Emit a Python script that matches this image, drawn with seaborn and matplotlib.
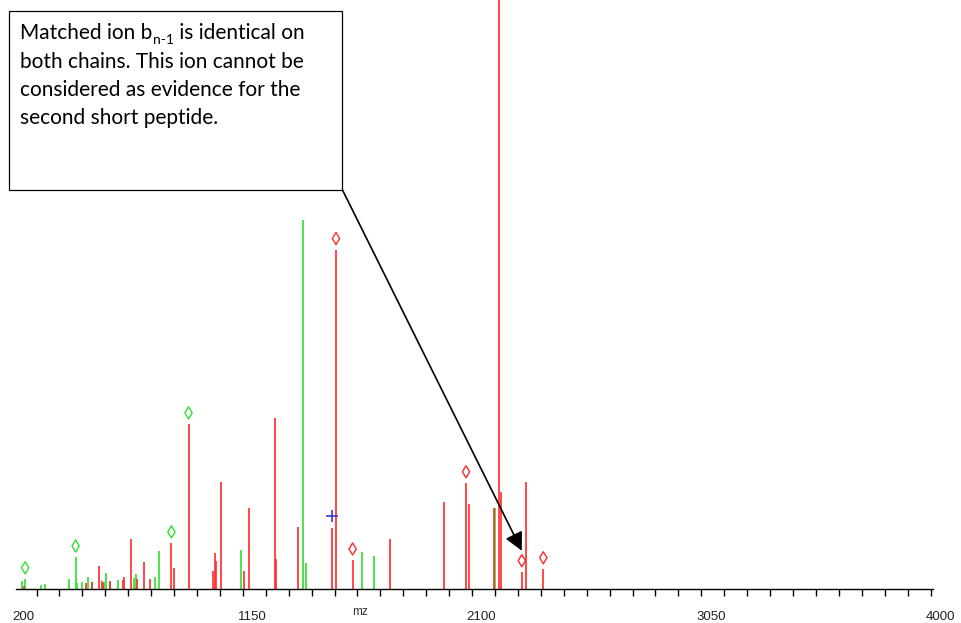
import numpy as np
import pandas as pd
import matplotlib
matplotlib.use("Agg")
import matplotlib.pyplot as plt
import seaborn as sns
from matplotlib.ticker import MultipleLocator
from matplotlib.patches import Rectangle
from matplotlib.transforms import ScaledTranslation

# peaks (relative intensity, axis top = 100)
green_mz = [224, 238, 302, 319, 418, 447, 454, 473, 498, 514, 565, 573, 589, 623,
            687, 697, 774, 793, 1134, 1388, 1400, 1635, 1685, 2185]
green_int = [1.4, 1.7, 0.7, 0.8, 1.7, 5.4, 1.0, 1.2, 2.0, 1.2, 1.2, 2.7, 1.4, 1.5,
             1.9, 2.5, 2.0, 6.5, 6.6, 62.6, 4.4, 6.3, 5.6, 13.8]

red_mz = [233, 491, 514, 543, 555, 560, 589, 642, 649, 678, 701, 729, 755, 844,
          853, 915, 1018, 1023, 1029, 1048, 1145, 1166, 1274, 1279, 1370, 1510,
          1526, 1595, 1750, 1975, 2065, 2076, 2181, 2200, 2209, 2296, 2315, 2385]
red_int = [0.5, 1.0, 1.2, 3.9, 1.4, 1.0, 1.4, 1.5, 2.0, 8.5, 1.7, 4.6, 1.7, 7.8,
           3.6, 28.0, 3.1, 6.1, 4.8, 18.2, 3.1, 13.8, 29.0, 5.1, 10.5, 10.4,
           57.6, 4.9, 8.5, 14.8, 18.0, 14.4, 13.8, 120.0, 16.5, 2.9, 18.2, 3.4]

green_diamond_mz = [238, 447, 844, 915]
red_diamond_mz = [1526, 1595, 2065, 2296, 2385]
plus_mz = [1510]

tick_values = [200, 1150, 2100, 3050, 4000]
x_label = "mz"
# first line is split around the subscript
note_first = ["Matched ion b", "n-1", " is identical on"]
note_lines = ["both chains. This ion cannot be",
              "considered as evidence for the",
              "second short peptide."]
arrow_target_mz = 2296

peaks = pd.concat([
    pd.DataFrame({"mz": green_mz, "intensity": green_int, "series": "green"}),
    pd.DataFrame({"mz": red_mz, "intensity": red_int, "series": "red"}),
], ignore_index=True)


def peak_height(mz):
    idx = (peaks["mz"] - mz).abs().idxmin()
    return peaks.loc[idx, "intensity"]


sns.set_style("white")
plt.rcParams['font.family'] = ['Liberation Sans', 'DejaVu Sans']
plt.rcParams['text.color'] = 'black'

W, H = 962, 623
fig = plt.figure(figsize=(W / 100, H / 100), dpi=100)
ax = fig.add_axes([16 / W, 34 / H, 917 / W, 589 / H])

GREEN = "#2ee02e"
RED = "#ff2a2a"
ax.vlines(green_mz, 0, green_int, color=GREEN, lw=1.2)
ax.vlines(red_mz, 0, red_int, color=RED, lw=1.2)

off = 1.9
gd = pd.DataFrame({"mz": green_diamond_mz})
gd["y"] = [peak_height(m) + off for m in green_diamond_mz]
rd = pd.DataFrame({"mz": red_diamond_mz})
rd["y"] = [peak_height(m) + off for m in red_diamond_mz]
pl = pd.DataFrame({"mz": plus_mz})
pl["y"] = [peak_height(m) + 2.0 for m in plus_mz]

sns.scatterplot(data=gd, x="mz", y="y", marker="d", s=38, facecolor="none",
                edgecolor=GREEN, linewidth=1.0, ax=ax, zorder=3)
sns.scatterplot(data=rd, x="mz", y="y", marker="d", s=38, facecolor="none",
                edgecolor=RED, linewidth=1.0, ax=ax, zorder=3)
sns.scatterplot(data=pl, x="mz", y="y", marker="+", s=80, color="#3a3ad0",
                linewidth=1.2, ax=ax, zorder=3)

ax.set_xlim(200, 4000)
ax.set_ylim(0, 100)
for s in ["left", "top", "right"]:
    ax.spines[s].set_visible(False)
ax.spines["bottom"].set_color("black")
ax.spines["bottom"].set_linewidth(1.0)
ax.set_yticks([])
ax.set_xticks(tick_values)
ax.set_xticklabels([str(v) for v in tick_values])
ax.xaxis.set_minor_locator(MultipleLocator(95))
ax.tick_params(axis="x", which="major", length=12, width=1.0, direction="out",
               color="black", pad=3.5, labelsize=9.5, labelcolor="#222222")
ax.tick_params(axis="x", which="minor", length=5, width=1.0, direction="out",
               color="black", bottom=True)
shift = ScaledTranslation(7 / 100, 0, fig.dpi_scale_trans)
for lab in ax.get_xticklabels():
    lab.set_transform(lab.get_transform() + shift)
ax.set_xlabel("")
ax.set_ylabel("")
fig.text(360 / W, 1 - 615 / H, x_label, ha="center", va="baseline", fontsize=8.5,
         color="#333333")

# annotation box
box = Rectangle((9 / W, 1 - 190 / H), 333 / W, 179 / H, transform=fig.transFigure,
                facecolor="white", edgecolor="black", lw=0.9, zorder=5)
fig.patches.append(box)

renderer = fig.canvas.get_renderer()
fs = 15
x0 = 20
y0 = 39
t = fig.text(x0 / W, 1 - y0 / H, note_first[0], ha="left", va="baseline",
             fontsize=fs, family="Lato", color="black", zorder=6)
x1 = t.get_window_extent(renderer).x1 + 0.5
t = fig.text(x1 / W, 1 - (y0 + 5) / H, note_first[1], ha="left", va="baseline",
             fontsize=10, family="Lato", color="black", zorder=6)
x2 = t.get_window_extent(renderer).x1
fig.text(x2 / W, 1 - y0 / H, note_first[2], ha="left", va="baseline",
         fontsize=fs, family="Lato", color="black", zorder=6)
for i, line in enumerate(note_lines, start=1):
    fig.text(x0 / W, 1 - (y0 + 28.5 * i) / H, line, ha="left", va="baseline",
             fontsize=fs, family="Lato", color="black", zorder=6)

ax.annotate("", xy=(arrow_target_mz, 6.5), xycoords="data",
            xytext=(342 / W, 1 - 189 / H), textcoords="figure fraction",
            annotation_clip=False,
            arrowprops=dict(arrowstyle="-|>,head_length=0.55,head_width=0.28",
                            color="black", lw=1.2, mutation_scale=20,
                            shrinkA=0, shrinkB=0))

fig.savefig("out.png", dpi=100)
